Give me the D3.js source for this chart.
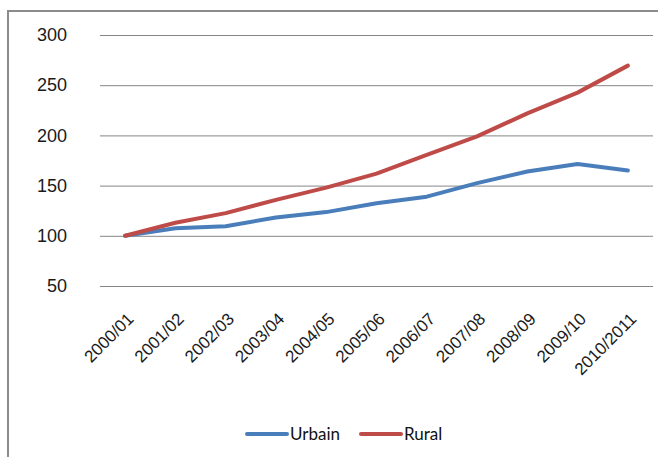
<!DOCTYPE html>
<html>
<head>
<meta charset="utf-8">
<script src="https://cdn.jsdelivr.net/npm/d3@7"></script>
<style>
  html, body { margin: 0; padding: 0; background: #fff; }
  svg { display: block; font-family: Lato, "Open Sans", "Liberation Sans", sans-serif; }
</style>
</head>
<body>
<svg id="chart" width="658" height="457"></svg>
<script>
const categories = ["2000/01","2001/02","2002/03","2003/04","2004/05","2005/06","2006/07","2007/08","2008/09","2009/10","2010/2011"];
const urbain = [100, 107.6, 109.5, 118.3, 123.6, 132.5, 139, 152.5, 164, 171.6, 165];
const rural  = [100, 113, 122.6, 135.8, 148, 162, 180.5, 199, 222, 242.6, 269.5];
const yTicks = [50, 100, 150, 200, 250, 300];
const seriesNames = ["Urbain", "Rural"];
const seriesColors = ["#4a7ebb", "#be4b48"];

(function () {
const svg = d3.select("#chart");

svg.append("path")
  .attr("d", "M8,460 L8,11 L660,11")
  .attr("fill", "none")
  .attr("stroke", "#8c8c8c")
  .attr("stroke-width", 2);

const mLeft = 100, mRight = 653, mTop = 35, mBottom = 286;

const x = d3.scalePoint().domain(categories).range([mLeft, mRight]).padding(0.5);
const y = d3.scaleLinear().domain([50, 300]).range([mBottom, mTop]);

const yAxis = svg.append("g")
  .attr("transform", `translate(${mLeft},0)`)
  .call(d3.axisLeft(y).tickValues(yTicks).tickSize(-(mRight - mLeft)).tickPadding(33));
yAxis.select(".domain").remove();
yAxis.selectAll(".tick line").attr("stroke", "#868686").attr("stroke-width", 1);
yAxis.selectAll(".tick text").attr("fill", "#1a1a1a").style("font-size", "18px");

const xAxis = svg.append("g")
  .attr("transform", `translate(0,${mBottom})`)
  .call(d3.axisBottom(x).tickSize(0).tickPadding(0));
xAxis.select(".domain").remove();
xAxis.selectAll(".tick text")
  .attr("fill", "#1a1a1a")
  .style("font-size", "17px")
  .attr("text-anchor", "end")
  .attr("dy", null)
  .attr("y", 0)
  .attr("transform", "translate(9,34) rotate(-45)");

const line = d3.line().x((d, i) => x(categories[i])).y(d => y(d));
[urbain, rural].forEach((vals, k) => {
  svg.append("path")
    .datum(vals)
    .attr("fill", "none")
    .attr("stroke", seriesColors[k])
    .attr("stroke-width", 4)
    .attr("stroke-linejoin", "round")
    .attr("stroke-linecap", "round")
    .attr("d", line);
});

const legendX = [247, 361];
seriesNames.forEach((name, k) => {
  const g = svg.append("g").attr("transform", `translate(${legendX[k]},434)`);
  g.append("line").attr("x1", 0).attr("x2", 40).attr("y1", 0).attr("y2", 0)
    .attr("stroke", seriesColors[k]).attr("stroke-width", 4).attr("stroke-linecap", "round");
  g.append("text").attr("x", 43).attr("y", 0).attr("dy", "0.35em")
    .style("font-size", "17px").attr("fill", "#111").text(name);
});
})();
</script>
</body>
</html>
